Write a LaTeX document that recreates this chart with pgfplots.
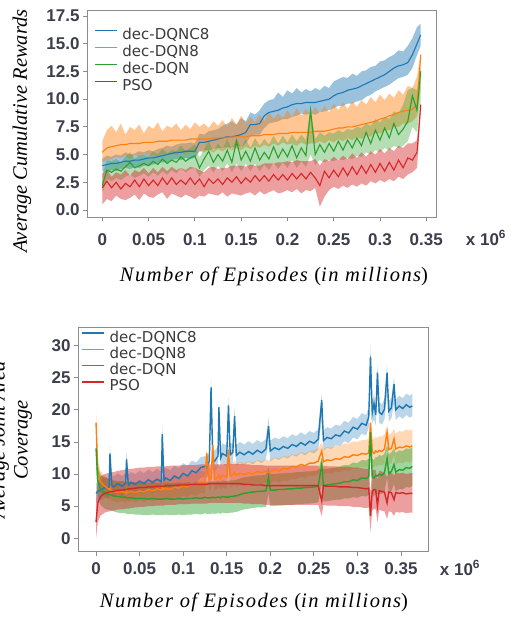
\documentclass[border=0pt]{standalone}
\usepackage{fontspec}
\setmainfont{Liberation Serif}
\newfontfamily\tickf{Liberation Sans}
\newfontfamily\legf{DejaVu Sans}
\newfontfamily\labf{Liberation Serif}[LetterSpace=7]
\usepackage{pgfplots}
\pgfplotsset{compat=1.18}
\usepackage{pgfplotstable}
\usepgfplotslibrary{fillbetween}

\definecolor{c1}{HTML}{1F77B4}
\definecolor{c2}{HTML}{FF7F0E}
\definecolor{c3}{HTML}{2CA02C}
\definecolor{c4}{HTML}{D62728}
\definecolor{tickc}{HTML}{3B3F4B}
\definecolor{legc}{HTML}{3A3A3A}
\definecolor{framec}{HTML}{8C8C8C}
\newcommand{\legtxt}[1]{{\legf\fontsize{15}{17}\selectfont\color{legc}#1}}

% top panel: mean, lower, upper for each method
\pgfplotstableread{
x bm bl bu om ol ou gm gl gu rm rl ru
0.000 4.0 3.5 4.6 5.2 4.3 6.2 2.2 1.5 3.2 2.0 0.5 3.3
0.005 4.1 3.4 4.9 5.6 4.5 7.2 3.6 2.8 4.5 2.6 1.0 3.6
0.010 4.2 3.6 4.8 5.7 4.6 7.6 3.4 2.6 4.4 2.0 0.8 3.0
0.015 4.2 3.5 5.0 5.8 4.8 7.0 3.7 2.9 4.6 2.5 1.3 3.4
0.020 4.3 3.7 4.9 5.9 4.7 7.8 3.5 2.7 4.3 1.9 1.0 3.2
0.025 4.4 3.8 5.2 5.9 4.9 6.8 3.9 3.0 4.8 2.4 0.9 3.6
0.030 4.4 3.7 5.0 6.0 4.6 7.5 4.3 3.2 5.2 2.1 1.1 3.1
0.035 4.5 3.9 5.1 6.0 5.0 7.2 3.8 2.9 4.6 2.7 1.4 3.6
0.040 4.5 3.8 5.3 6.0 4.8 7.7 4.0 3.1 4.9 2.1 0.9 3.4
0.045 4.6 4.0 5.2 6.1 5.1 6.9 4.2 3.3 5.0 2.8 1.5 3.8
0.050 4.7 4.0 5.4 6.1 4.9 7.6 4.0 3.0 4.8 2.2 1.2 3.3
0.055 4.7 4.1 5.3 6.1 5.0 7.3 4.4 3.4 5.3 2.7 1.1 3.8
0.060 4.8 4.2 5.5 6.2 4.8 7.9 4.1 3.1 5.0 2.2 1.4 3.4
0.065 4.9 4.3 5.6 6.2 5.1 7.1 4.6 3.5 5.5 2.9 1.6 3.9
0.070 5.0 4.3 5.8 6.2 5.0 7.6 4.2 3.2 5.1 2.3 1.0 3.5
0.075 5.1 4.5 5.7 6.3 5.2 7.4 4.5 3.6 5.4 2.9 1.5 3.9
0.080 5.2 4.6 5.9 6.3 4.9 7.8 4.3 3.3 5.3 2.3 1.3 3.6
0.085 5.2 4.5 6.0 6.3 5.2 7.2 4.8 3.8 5.8 2.7 1.1 3.8
0.090 5.3 4.7 6.0 6.3 5.0 7.7 4.4 3.4 5.3 2.3 1.4 3.6
0.095 5.3 4.6 6.1 6.4 5.3 7.3 4.7 3.7 5.6 2.9 1.2 3.9
0.100 5.3 4.7 6.0 6.4 5.1 7.9 4.9 3.8 5.9 2.3 1.0 3.8
0.105 6.1 5.3 6.9 6.4 5.3 7.5 3.8 3.0 4.7 2.8 1.3 3.6
0.110 6.1 5.4 6.8 6.4 5.2 7.8 4.6 3.6 5.5 2.1 1.2 3.4
0.115 6.2 5.4 7.1 6.4 5.4 7.4 5.3 4.0 6.2 2.8 1.5 3.8
0.120 6.3 5.5 7.2 6.5 5.2 8.0 4.3 3.4 5.3 2.4 1.4 3.9
0.125 6.4 5.6 7.3 6.5 5.5 7.6 5.0 4.0 6.0 2.8 1.3 3.7
0.130 6.5 5.6 7.6 6.5 5.3 8.1 4.4 3.5 5.5 2.3 1.6 3.8
0.135 6.6 5.7 7.8 6.5 5.6 7.5 5.4 4.2 6.4 2.9 1.2 3.8
0.140 6.6 5.6 8.0 6.6 5.4 8.3 4.3 3.4 5.4 2.5 1.5 4.0
0.145 6.7 5.8 7.7 6.6 5.6 7.7 6.2 4.2 6.5 3.0 1.4 4.0
0.150 6.8 5.7 8.3 6.6 5.4 8.5 4.5 3.5 5.6 2.4 1.3 4.0
0.155 7.0 6.0 8.0 6.6 5.7 7.8 5.3 4.2 6.4 2.9 1.5 3.9
0.160 7.7 6.6 8.8 6.7 5.5 8.4 4.4 3.5 5.6 2.5 1.6 4.1
0.165 7.7 6.8 8.6 6.7 5.8 7.9 5.6 4.2 6.5 3.1 1.3 4.0
0.170 7.8 6.8 9.0 6.7 5.6 8.6 4.5 3.5 5.8 2.6 1.7 4.0
0.175 8.5 7.4 9.6 6.8 5.9 8.0 5.2 4.1 6.4 3.1 1.4 4.2
0.180 8.8 7.8 9.9 6.8 5.7 8.8 4.6 3.6 5.9 2.6 1.6 4.2
0.185 8.9 7.9 10.0 6.8 6.0 8.2 5.7 4.3 6.7 3.2 1.8 4.2
0.190 9.0 8.0 10.6 6.9 5.8 8.7 4.7 3.7 6.0 2.7 1.5 4.3
0.195 9.2 8.2 10.2 6.9 6.1 8.3 5.5 4.3 6.7 3.2 1.6 4.3
0.200 9.3 8.2 10.8 6.9 5.9 9.0 4.8 3.8 6.1 2.7 1.8 4.4
0.205 9.5 8.4 10.5 7.0 6.0 8.4 5.8 4.5 6.8 3.3 1.6 4.3
0.210 9.6 8.5 11.0 7.0 5.8 9.2 4.7 3.8 6.2 2.8 1.9 4.5
0.215 9.6 8.7 10.6 7.0 6.1 8.5 5.6 4.4 6.8 3.3 1.5 4.4
0.220 9.7 8.6 10.9 7.0 5.9 9.1 4.9 3.9 6.3 2.8 1.8 4.4
0.225 9.7 8.7 10.7 7.0 6.0 8.6 9.0 5.0 9.2 3.4 1.7 4.4
0.230 9.7 8.6 11.0 7.1 6.0 9.3 5.0 4.1 6.4 2.9 2.0 4.6
0.235 9.8 8.8 10.8 7.1 6.2 8.7 5.9 4.5 7.0 2.2 0.3 4.0
0.240 9.9 8.9 11.2 7.1 6.0 9.4 5.2 4.3 6.7 3.5 1.2 4.6
0.245 10.0 9.0 11.0 7.2 6.3 8.8 6.0 4.5 7.0 2.9 1.8 4.4
0.250 10.3 9.2 11.6 7.3 6.1 9.6 5.3 4.4 6.9 3.6 2.1 4.8
0.255 10.5 9.4 11.8 7.4 6.4 9.0 6.2 4.6 7.2 3.0 1.9 4.5
0.260 10.6 9.4 12.0 7.4 6.2 9.7 5.4 4.5 7.0 3.8 2.2 4.9
0.265 10.8 9.6 11.9 7.5 6.5 9.1 6.3 4.7 7.3 3.1 2.0 4.6
0.270 10.9 9.6 12.3 7.5 6.3 9.8 5.6 4.6 7.2 3.9 2.3 5.1
0.275 11.0 9.8 12.1 7.6 6.6 9.3 6.5 4.9 7.5 3.2 2.1 4.7
0.280 11.2 9.9 12.5 7.7 6.4 9.9 5.8 4.8 7.4 4.0 2.4 5.2
0.285 11.4 10.2 12.6 7.8 6.8 9.5 7.0 5.2 7.8 3.3 2.2 4.8
0.290 11.6 10.4 12.9 7.9 6.6 10.2 6.0 5.0 7.6 4.1 2.6 5.3
0.295 11.8 10.7 13.0 8.0 7.0 9.7 7.2 5.4 8.2 3.4 2.4 5.0
0.300 12.0 10.9 13.4 8.2 6.9 10.4 6.3 5.2 7.9 4.2 2.7 5.5
0.305 12.2 11.1 13.5 8.3 7.2 9.9 7.4 5.6 8.4 3.5 2.5 5.1
0.310 12.5 11.3 13.8 8.5 7.2 10.5 6.5 5.4 8.2 4.3 2.8 5.6
0.315 12.8 11.6 14.0 8.6 7.5 10.1 7.8 5.8 8.9 3.6 2.6 5.3
0.320 13.0 11.9 14.4 8.8 7.5 10.8 6.8 5.6 8.7 4.5 3.0 5.8
0.325 13.1 12.0 14.3 8.9 7.8 10.4 7.3 5.8 9.5 3.8 2.8 5.6
0.330 13.3 12.2 14.8 9.0 7.8 11.2 8.0 6.2 10.8 4.7 3.2 6.0
0.335 14.0 12.8 15.5 9.1 8.0 11.0 10.3 7.5 11.0 4.5 3.4 6.0
0.340 15.0 14.0 16.5 9.5 8.5 12.0 9.0 7.0 10.8 5.2 3.8 6.3
0.344 15.8 14.8 16.8 14.0 11.0 14.2 12.5 10.0 12.8 9.5 8.8 9.8
}\topdata

% bottom panel: mean, lower, upper for each method
\pgfplotstableread{
x bm bl bu om ol ou gm gl gu rm rl ru
0.000 7.0 5.5 8.5 18.0 15.0 20.0 14.0 11.0 16.0 2.5 0.0 6.0
0.002 7.3 5.8 8.9 10.5 8.7 12.3 9.0 6.5 11.2 5.5 2.5 8.8
0.005 7.5 6.0 9.1 8.8 7.2 10.5 7.6 5.2 10.0 6.5 3.5 9.6
0.010 7.9 6.3 9.5 8.1 6.6 9.7 7.0 4.6 9.4 7.0 4.0 10.0
0.015 7.8 6.2 9.4 7.6 6.1 9.2 6.8 4.4 9.2 7.2 4.2 10.2
0.016 13.2 11.0 14.5 7.8 6.2 9.4 6.8 4.4 9.2 7.2 4.2 10.2
0.018 8.3 6.7 9.9 7.4 5.9 9.0 6.7 4.3 9.1 7.3 4.3 10.3
0.020 8.0 6.4 9.6 7.3 5.8 8.9 6.6 4.2 9.0 7.3 4.3 10.3
0.025 8.5 6.9 10.1 7.1 5.6 8.7 6.5 4.0 8.9 7.5 4.5 10.5
0.030 8.1 6.5 9.7 7.3 5.8 8.9 6.4 3.9 8.9 7.5 4.5 10.6
0.034 8.6 7.0 10.2 7.0 5.5 8.6 6.4 3.9 8.8 7.6 4.6 10.7
0.035 12.3 10.5 13.5 7.4 5.9 9.0 6.3 3.8 8.8 7.6 4.6 10.7
0.037 8.3 6.7 9.9 7.1 5.6 8.7 6.3 3.8 8.8 7.7 4.6 10.8
0.040 8.7 7.1 10.3 7.3 5.8 8.9 6.3 3.8 8.8 7.7 4.7 10.8
0.045 8.4 6.8 10.0 7.1 5.6 8.7 6.2 3.7 8.7 7.8 4.8 10.9
0.050 8.9 7.3 10.5 7.4 5.9 9.0 6.2 3.7 8.7 7.9 4.9 11.0
0.055 8.5 6.9 10.1 7.2 5.7 8.8 6.2 3.6 8.7 7.9 4.9 11.0
0.060 9.1 7.5 10.7 7.6 6.0 9.2 6.1 3.6 8.6 8.0 5.0 11.1
0.065 8.7 7.1 10.3 7.4 5.8 9.0 6.2 3.7 8.7 8.0 5.0 11.1
0.070 9.2 7.6 10.8 7.7 6.1 9.3 6.1 3.6 8.6 8.1 5.1 11.2
0.075 8.8 7.2 10.4 7.5 5.9 9.1 6.1 3.6 8.6 8.1 5.1 11.2
0.076 16.2 13.5 17.5 7.9 6.3 9.5 6.1 3.6 8.6 8.1 5.1 11.2
0.078 9.0 7.4 10.6 7.6 6.0 9.2 6.1 3.6 8.6 8.1 5.1 11.2
0.080 9.4 7.8 11.0 7.8 6.2 9.4 6.2 3.7 8.7 8.2 5.2 11.2
0.085 9.0 7.4 10.6 7.6 6.0 9.2 6.1 3.6 8.6 8.2 5.2 11.3
0.090 9.7 8.1 11.3 8.0 6.4 9.6 6.1 3.6 8.6 8.2 5.2 11.3
0.095 9.3 7.7 10.9 7.8 6.2 9.4 6.2 3.7 8.7 8.3 5.3 11.3
0.100 10.1 8.5 11.7 8.2 6.6 9.8 6.1 3.6 8.6 8.3 5.3 11.4
0.105 9.7 8.1 11.3 8.0 6.4 9.6 6.2 3.7 8.7 8.3 5.3 11.4
0.110 10.5 8.9 12.1 8.5 6.8 10.2 6.2 3.7 8.7 8.4 5.4 11.4
0.115 10.2 8.6 11.8 8.3 6.6 10.0 6.3 3.8 8.8 8.4 5.4 11.4
0.120 11.0 9.4 12.6 8.8 7.1 10.5 6.2 3.7 8.7 8.4 5.4 11.5
0.125 11.2 9.6 12.8 8.7 7.0 10.4 6.4 3.9 8.9 8.4 5.4 11.5
0.127 11.0 9.4 12.6 13.3 11.0 14.0 6.3 3.8 8.8 8.4 5.4 11.5
0.130 12.0 10.4 13.6 9.1 7.4 10.8 6.3 3.8 8.8 8.5 5.5 11.5
0.132 23.5 20.0 25.0 9.3 7.6 11.0 6.3 3.8 8.8 8.5 5.5 11.5
0.134 12.3 10.7 13.9 14.5 12.0 15.5 6.4 3.9 8.9 8.5 5.5 11.5
0.136 12.0 10.4 13.6 9.2 7.5 10.9 6.3 3.8 8.8 8.5 5.5 11.5
0.140 12.8 11.2 14.4 9.5 7.8 11.2 6.4 3.9 8.9 8.5 5.5 11.5
0.141 20.4 17.5 21.8 9.8 8.1 11.5 6.4 3.9 8.9 8.5 5.5 11.5
0.143 12.5 10.9 14.1 9.3 7.6 11.0 6.3 3.8 8.8 8.5 5.5 11.5
0.145 13.2 11.6 14.8 9.8 8.0 11.5 6.5 4.0 9.0 8.5 5.5 11.5
0.150 12.8 11.2 14.4 9.5 7.7 11.3 6.4 3.9 8.9 8.5 5.5 11.6
0.152 20.7 17.5 22.0 13.8 11.5 14.8 6.4 3.9 8.9 8.5 5.5 11.6
0.154 13.0 11.4 14.6 9.7 7.9 11.5 6.5 4.0 9.0 8.5 5.5 11.6
0.157 13.4 11.8 15.0 9.9 8.1 11.7 6.5 4.0 9.0 8.5 5.5 11.6
0.159 19.0 16.5 20.5 10.3 8.5 12.1 6.6 4.1 9.1 8.5 5.5 11.6
0.161 12.9 11.3 14.5 9.8 8.0 11.6 6.6 4.1 9.1 8.5 5.5 11.6
0.165 13.4 11.8 15.0 10.1 8.3 11.9 6.8 4.3 9.3 8.5 5.5 11.6
0.170 13.0 11.4 14.6 9.9 8.1 11.7 7.0 4.5 9.5 8.4 5.4 11.5
0.175 13.5 11.9 15.1 10.2 8.4 12.0 7.1 4.6 9.6 8.4 5.4 11.5
0.180 13.1 11.5 14.7 10.0 8.2 11.8 7.2 4.7 9.7 8.3 5.3 11.4
0.185 13.7 12.1 15.3 10.4 8.6 12.2 7.3 4.8 9.8 8.3 5.3 11.4
0.190 13.3 11.7 14.9 10.2 8.4 12.0 7.3 4.8 9.8 8.3 5.3 11.4
0.195 13.9 12.3 15.5 10.5 8.7 12.3 7.4 4.9 9.9 8.2 5.2 11.3
0.198 17.5 15.0 18.8 10.3 8.5 12.1 9.5 7.0 11.0 8.2 5.2 11.3
0.200 13.6 12.0 15.2 10.4 8.6 12.2 7.5 5.0 10.0 8.2 5.2 11.3
0.205 14.1 12.5 15.7 10.7 8.9 12.6 7.5 5.0 10.0 8.2 5.2 11.3
0.210 13.8 12.2 15.4 10.5 8.7 12.4 7.6 5.1 10.1 8.2 5.2 11.3
0.215 14.3 12.7 15.9 10.9 9.0 12.8 7.6 5.1 10.1 8.2 5.2 11.3
0.220 14.0 12.4 15.6 10.8 8.9 12.7 7.7 5.2 10.2 8.2 5.2 11.3
0.225 14.6 13.0 16.2 11.2 9.3 13.1 7.7 5.2 10.2 8.2 5.2 11.3
0.230 14.3 12.7 15.9 11.1 9.2 13.0 7.8 5.3 10.3 8.2 5.2 11.3
0.235 14.9 13.3 16.5 11.5 9.6 13.4 7.8 5.3 10.3 8.2 5.2 11.3
0.240 14.5 12.9 16.1 11.3 9.4 13.2 7.9 5.4 10.4 8.2 5.2 11.3
0.245 15.1 13.5 16.7 11.7 9.8 13.6 7.9 5.4 10.4 8.2 5.2 11.3
0.250 14.8 13.2 16.4 11.7 9.7 13.7 8.0 5.5 10.5 8.2 5.2 11.3
0.255 15.4 13.8 17.0 12.0 10.0 14.0 8.1 5.6 10.6 8.2 5.2 11.3
0.259 21.5 18.5 22.5 13.6 11.5 15.0 11.5 8.5 12.5 5.8 3.5 10.0
0.261 15.2 13.6 16.8 11.9 9.9 13.9 8.2 5.7 10.7 8.2 5.2 11.3
0.265 15.7 14.1 17.3 12.2 10.2 14.2 8.3 5.8 10.8 8.1 5.1 11.2
0.270 15.5 13.9 17.1 12.1 10.1 14.1 8.4 5.9 10.9 8.1 5.1 11.2
0.275 16.1 14.5 17.7 12.4 10.4 14.4 8.5 6.0 11.0 8.1 5.1 11.2
0.280 15.9 14.3 17.5 12.3 10.3 14.3 8.6 6.0 11.2 8.0 5.0 11.1
0.285 16.7 15.1 18.3 12.7 10.6 14.8 8.8 6.2 11.4 8.0 5.0 11.1
0.290 16.4 14.8 18.0 12.6 10.5 14.7 8.8 6.2 11.4 8.0 5.0 11.1
0.295 17.3 15.7 18.9 13.0 10.9 15.1 9.1 6.4 11.8 7.9 4.9 11.0
0.300 17.0 15.4 18.6 12.9 10.8 15.0 9.0 6.3 11.7 7.9 4.9 11.0
0.305 17.9 16.3 19.5 13.2 11.1 15.3 9.4 6.6 12.2 7.8 4.8 10.9
0.310 17.6 16.0 19.2 13.1 11.0 15.3 9.3 6.5 12.1 7.7 4.7 10.8
0.313 18.9 17.3 20.5 13.3 11.2 15.5 9.6 6.8 12.4 7.8 4.8 10.9
0.315 28.3 24.0 30.0 18.0 15.0 18.5 16.5 13.0 17.0 3.5 1.0 7.0
0.317 19.5 17.9 21.1 13.5 11.3 15.7 9.6 6.8 12.4 7.3 4.3 10.5
0.319 21.0 18.5 22.5 13.2 11.0 15.4 9.4 6.6 12.2 7.6 4.6 10.7
0.321 19.2 17.6 20.8 13.6 11.4 15.8 9.8 6.9 12.7 7.5 4.5 10.6
0.323 25.8 22.5 27.0 13.4 11.2 15.6 9.7 6.8 12.6 5.0 2.5 9.0
0.325 19.6 18.0 21.2 13.7 11.5 15.9 10.0 7.0 13.0 7.4 4.4 10.5
0.328 19.3 17.7 20.9 13.5 11.3 15.8 9.8 6.9 12.8 7.3 4.3 10.4
0.331 20.1 18.5 21.7 13.9 11.6 16.2 10.2 7.2 13.2 7.2 4.2 10.3
0.334 25.8 22.5 27.0 16.5 14.0 17.5 12.5 9.5 14.5 5.5 3.0 9.5
0.336 19.8 18.2 21.4 13.8 11.5 16.1 10.1 7.1 13.1 7.2 4.2 10.3
0.339 20.3 18.7 21.9 14.0 11.7 16.4 10.4 7.4 13.4 7.1 4.1 10.2
0.342 24.0 21.0 25.0 15.5 13.0 17.0 11.5 8.5 14.0 6.0 3.5 9.8
0.344 20.0 18.4 21.6 13.9 11.6 16.3 10.3 7.3 13.3 7.1 4.1 10.2
0.348 20.6 19.0 22.2 14.2 11.8 16.7 10.7 7.7 13.7 7.0 4.0 10.1
0.352 20.2 18.6 21.8 14.1 11.7 16.6 10.6 7.6 13.6 7.1 4.1 10.2
0.356 20.8 19.2 22.5 14.4 12.0 16.9 11.0 8.0 14.0 6.9 3.9 10.0
0.360 20.4 18.8 22.2 14.2 11.8 16.8 10.9 7.9 13.9 7.0 4.0 10.1
0.363 20.6 19.0 22.5 14.4 12.0 17.0 11.2 8.2 14.2 7.0 4.0 10.2
}\botdata

\pgfplotsset{
  panel/.style={
    scale only axis,
    no markers,
    scaled ticks=false,
    axis line style={framec, line width=0.9pt},
    tick pos=left,
    tick align=outside,
    major tick length=4pt,
    every tick/.style={framec, line width=0.8pt},
    ticklabel style={font=\tickf\bfseries\fontsize{17}{19}\selectfont, text=tickc},
    legend cell align=left,
    legend style={draw=none, fill=none, anchor=north west, inner sep=0pt,
      row sep=2pt,
      nodes={inner sep=0pt, text height=11.5pt, text depth=3.5pt},
      /tikz/every odd column/.append style={column sep=5pt}},
    legend image code/.code={\draw[##1, line width=1.2pt] (0pt,5pt) -- (22pt,5pt);},
  },
}

\begin{document}
\begin{tikzpicture}[x=1pt, y=1pt]

% ---------- top panel ----------
\begin{axis}[panel,
  at={(87pt,400pt)}, anchor=south west,
  width=349pt, height=207pt,
  xmin=-0.0165, xmax=0.3605, ymin=-0.63, ymax=18.04,
  xtick={0,0.05,0.1,0.15,0.2,0.25,0.3,0.35},
  xticklabels={0,0.05,0.1,0.15,0.2,0.25,0.3,0.35},
  ytick={0,2.5,5,7.5,10,12.5,15,17.5},
  yticklabels={0.0,2.5,5.0,7.5,10.0,12.5,15.0,17.5},
  xticklabel style={yshift=-9pt},
  legend style={at={(0.02,0.913)}},
]
\addplot[draw=none, name path=tbu, forget plot] table[x=x, y=bu]{\topdata};
\addplot[draw=none, name path=tbl, forget plot] table[x=x, y=bl]{\topdata};
\addplot[draw=none, name path=tou, forget plot] table[x=x, y=ou]{\topdata};
\addplot[draw=none, name path=tol, forget plot] table[x=x, y=ol]{\topdata};
\addplot[draw=none, name path=tgu, forget plot] table[x=x, y=gu]{\topdata};
\addplot[draw=none, name path=tgl, forget plot] table[x=x, y=gl]{\topdata};
\addplot[draw=none, name path=tru, forget plot] table[x=x, y=ru]{\topdata};
\addplot[draw=none, name path=trl, forget plot] table[x=x, y=rl]{\topdata};
\addplot[fill=c1, fill opacity=0.45, forget plot] fill between[of=tbu and tbl];
\addplot[fill=c2, fill opacity=0.45, forget plot] fill between[of=tou and tol];
\addplot[fill=c3, fill opacity=0.35, forget plot] fill between[of=tgu and tgl];
\addplot[fill=c4, fill opacity=0.45, forget plot] fill between[of=tru and trl];
\addplot[c1, line width=1.1pt] table[x=x, y=bm]{\topdata};
\addlegendentry{\legtxt{dec-DQNC8}}
\addplot[c2, line width=1.1pt] table[x=x, y=om]{\topdata};
\addlegendentry{\legtxt{dec-DQN8}}
\addplot[c3, line width=1.1pt] table[x=x, y=gm]{\topdata};
\addlegendentry{\legtxt{dec-DQN}}
\addplot[c4, line width=1.1pt] table[x=x, y=rm]{\topdata};
\addlegendentry{\legtxt{PSO}}
\end{axis}

% ---------- bottom panel ----------
\begin{axis}[panel,
  at={(78pt,65.3pt)}, anchor=south west,
  width=350pt, height=224.7pt,
  xmin=-0.0207, xmax=0.381, ymin=-2.09, ymax=32.9,
  xtick={0,0.05,0.1,0.15,0.2,0.25,0.3,0.35},
  xticklabels={0,0.05,0.1,0.15,0.2,0.25,0.3,0.35},
  ytick={0,5,10,15,20,25,30},
  yticklabels={0,5,10,15,20,25,30},
  xticklabel style={yshift=-3pt},
  legend style={at={(0.009,0.985)}, row sep=1.3pt},
]
\addplot[draw=none, name path=bbu, forget plot] table[x=x, y=bu]{\botdata};
\addplot[draw=none, name path=bbl, forget plot] table[x=x, y=bl]{\botdata};
\addplot[draw=none, name path=bou, forget plot] table[x=x, y=ou]{\botdata};
\addplot[draw=none, name path=bol, forget plot] table[x=x, y=ol]{\botdata};
\addplot[draw=none, name path=bgu, forget plot] table[x=x, y=gu]{\botdata};
\addplot[draw=none, name path=bgl, forget plot] table[x=x, y=gl]{\botdata};
\addplot[draw=none, name path=bru, forget plot] table[x=x, y=ru]{\botdata};
\addplot[draw=none, name path=brl, forget plot] table[x=x, y=rl]{\botdata};
\addplot[fill=c1, fill opacity=0.3, forget plot] fill between[of=bbu and bbl];
\addplot[fill=c2, fill opacity=0.3, forget plot] fill between[of=bou and bol];
\addplot[fill=c3, fill opacity=0.45, forget plot] fill between[of=bgu and bgl];
\addplot[fill=c4, fill opacity=0.45, forget plot] fill between[of=bru and brl];
\addplot[c1, line width=1.4pt] table[x=x, y=bm]{\botdata};
\addlegendentry{\legtxt{dec-DQNC8}}
\addplot[c2, line width=1.4pt] table[x=x, y=om]{\botdata};
\addlegendentry{\legtxt{dec-DQN8}}
\addplot[c3, line width=1.4pt] table[x=x, y=gm]{\botdata};
\addlegendentry{\legtxt{dec-DQN}}
\addplot[c4, line width=1.4pt] table[x=x, y=rm]{\botdata};
\addlegendentry{\legtxt{PSO}}
\end{axis}

% tick scale labels and axis titles
\node[text=tickc, font=\tickf\bfseries\fontsize{17}{19}\selectfont] at (486,379) {x 10\textsuperscript{6}};
\node[text=tickc, font=\tickf\bfseries\fontsize{17}{19}\selectfont] at (460,49) {x 10\textsuperscript{6}};
\node[font=\labf\itshape\fontsize{20.5}{24}\selectfont] at (274,341) {Number of Episodes {\upshape(}in millions{\upshape)}};
\node[font=\labf\itshape\fontsize{20.5}{24}\selectfont] at (254,15) {Number of Episodes {\upshape(}in millions{\upshape)}};
\node[rotate=90, font=\itshape\fontsize{20.5}{24}\selectfont] at (22,486) {Average Cumulative Rewards};
\node[rotate=90, font=\itshape\fontsize{20.5}{24}\selectfont] at (23,177) {Coverage};
\node[rotate=90, font=\itshape\fontsize{20.5}{24}\selectfont] at (0,177) {Average Joint Area};

% page = the reference's frame
\pgfresetboundingbox
\useasboundingbox (0,0) rectangle (527,617);
\end{tikzpicture}
\end{document}
